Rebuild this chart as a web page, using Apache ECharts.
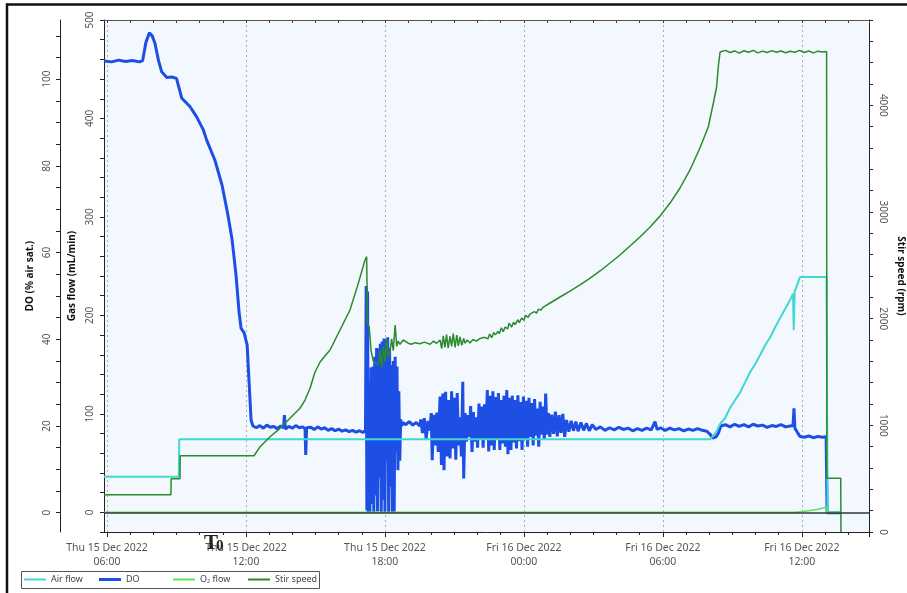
<!DOCTYPE html>
<html>
<head>
<meta charset="utf-8">
<script src="https://cdn.jsdelivr.net/npm/echarts@6/dist/echarts.min.js"></script>
<style>
  html, body { margin: 0; padding: 0; background: #fff; }
  #chart { width: 907px; height: 593px; }
</style>
</head>
<body>
<div id="chart"></div>
<script>
// Time values are hours after Thu 15 Dec 2022 00:00.
const T_START = 5.87;
const T_END = 38.9;
const dayNames = ['Thu 15 Dec 2022', 'Fri 16 Dec 2022'];
const legendNames = ['Air flow', 'DO', 'O\u2082 flow', 'Stir speed'];

// Dissolved oxygen, % air saturation
const doData = [
  [5.87,104.2],[6.2,104.0],[6.5,104.4],[6.8,104.1],[7.1,104.3],[7.4,104.0],[7.54,104.3],
  [7.68,108.5],[7.83,110.7],[7.95,110.0],[8.07,108.3],[8.22,104.4],[8.36,101.7],[8.58,100.4],
  [8.8,100.5],[9.0,100.2],[9.08,100.2],[9.23,95.6],[9.58,93.7],[9.87,91.3],[10.16,88.3],
  [10.30,86.0],[10.66,81.3],[10.97,75.5],[11.22,68.7],[11.40,63.0],[11.57,54.8],[11.70,46.4],
  [11.79,42.5],[11.92,41.5],[12.05,38.7],[12.13,30.6],[12.22,21.4],[12.30,20.0],
  [12.45,19.6],[12.6,20.1],[12.75,19.5],[12.9,20.2],[13.05,19.7],[13.2,19.9],[13.35,19.4],
  [13.5,20.0],[13.62,19.6],[13.66,22.5],[13.70,19.3],[13.85,19.9],[14.0,19.5],[14.15,20.1],
  [14.3,19.6],[14.45,19.8],[14.55,19.4],[14.58,13.3],[14.62,19.6],[14.8,19.7],[14.95,19.2],
  [15.1,19.8],[15.25,19.3],[15.4,19.6],[15.55,19.0],[15.7,19.4],[15.85,18.9],[16.0,19.3],
  [16.15,18.8],[16.3,19.1],[16.45,18.7],[16.6,19.0],[16.75,18.6],[16.9,18.9],[17.05,18.5],
  [17.12,18.8],[17.16,19.0],[17.19,52.3],[17.22,0.5],[17.25,51.0],[17.28,0],[17.32,30.0],
  [17.35,0],[17.40,33.5],[17.44,2.0],[17.48,33.7],[17.52,0],[17.56,36.0],[17.60,4.0],
  [17.64,38.0],[17.68,0.3],[17.72,37.9],[17.76,8.0],[17.80,39.0],[17.84,0],[17.88,39.5],
  [17.92,3.0],[17.96,40.2],[18.00,0],[18.04,40.0],[18.08,12.0],[18.12,40.5],[18.16,0],
  [18.20,38.0],[18.24,6.0],[18.28,34.0],[18.32,0],[18.36,35.0],[18.40,0.2],[18.44,36.0],
  [18.48,14.0],[18.52,33.7],[18.56,9.8],[18.60,28.0],[18.64,12.0],[18.68,21.5],[18.72,20.0],
  [18.78,20.8],[18.9,20.3],[19.05,21.0],[19.2,20.2],[19.35,20.8],[19.5,20.0],
  [19.55,21.5],[19.62,18.4],[19.70,21.8],[19.78,17.0],[19.86,21.2],[19.94,19.0],[20.00,23.0],
  [20.04,12.1],[20.10,22.6],[20.17,15.5],[20.24,23.1],[20.30,14.0],[20.38,26.8],[20.44,11.0],
  [20.50,27.5],[20.55,9.8],[20.62,27.9],[20.68,13.0],[20.75,26.0],[20.81,12.5],[20.88,28.0],
  [20.94,14.8],[21.00,26.5],[21.06,12.2],[21.12,27.6],[21.18,15.5],[21.24,22.0],[21.30,13.0],
  [21.36,30.2],[21.40,7.9],[21.46,23.0],[21.52,16.4],[21.58,22.5],[21.64,17.5],[21.70,24.6],
  [21.76,14.0],[21.82,23.2],[21.88,16.4],[21.94,22.0],[22.00,15.0],[22.06,25.2],[22.12,16.8],
  [22.18,24.5],[22.24,15.0],[22.30,25.0],[22.36,17.0],[22.42,28.3],[22.48,14.1],[22.54,27.0],
  [22.60,15.5],[22.66,28.0],[22.72,14.5],[22.78,26.7],[22.84,17.0],[22.90,27.6],[22.96,14.5],
  [23.02,26.0],[23.08,16.0],[23.14,27.0],[23.20,15.2],[23.26,28.3],[23.31,13.5],[23.38,26.5],
  [23.44,14.5],[23.50,27.0],[23.56,16.2],[23.62,26.0],[23.68,14.8],[23.74,27.1],[23.80,16.5],
  [23.86,25.5],[23.92,14.5],[23.98,26.8],[24.04,17.0],[24.10,25.8],[24.16,15.2],[24.22,26.5],
  [24.28,17.5],[24.34,25.3],[24.40,15.5],[24.46,26.2],[24.52,17.8],[24.58,24.0],[24.64,15.2],
  [24.70,25.6],[24.76,18.0],[24.82,24.5],[24.88,16.8],[24.94,27.5],[25.00,18.0],[25.06,23.0],
  [25.12,17.5],[25.20,22.6],[25.28,18.2],[25.36,23.3],[25.44,17.6],[25.52,22.5],[25.60,18.4],
  [25.68,22.8],[25.76,17.5],[25.84,21.4],[25.94,18.7],[26.04,21.2],[26.14,18.9],[26.24,21.0],
  [26.34,18.8],[26.46,20.8],[26.58,19.0],[26.70,20.6],[26.82,18.9],[26.95,20.3],
  [27.1,19.2],[27.3,19.8],[27.5,19.0],[27.7,19.6],[27.9,19.1],[28.1,19.7],[28.3,19.2],
  [28.5,19.5],[28.7,18.9],[28.9,19.4],[29.1,19.0],[29.3,19.5],[29.5,19.1],[29.66,21.0],
  [29.75,19.2],[29.9,19.6],[30.1,19.0],[30.3,19.5],[30.5,19.1],[30.7,19.4],[30.9,18.9],
  [31.1,19.3],[31.3,19.0],[31.5,19.4],[31.7,19.0],[31.9,18.8],[32.05,18.0],[32.15,17.2],
  [32.3,17.5],[32.4,18.4],[32.5,20.0],[32.7,20.3],[32.9,19.8],[33.1,20.4],[33.3,19.9],
  [33.5,20.3],[33.7,19.8],[33.9,20.4],[34.1,20.0],[34.3,20.2],[34.5,19.7],[34.7,20.1],
  [34.9,19.9],[35.1,20.3],[35.3,19.8],[35.5,20.0],[35.62,20.1],[35.66,24.1],[35.7,19.5],
  [35.8,18.6],[35.92,17.6],[36.1,17.4],[36.3,17.7],[36.5,17.3],[36.7,17.6],[36.9,17.4],
  [37.05,17.5],[37.09,0],[37.68,0]
];

// Air flow, mL/min
const airData = [
  [5.87,36.1],[9.10,36.1],[9.12,74.2],[32.05,74.2],[32.12,75.5],[32.30,81.6],[32.47,89.7],
  [32.69,95.8],[32.90,106.0],[33.12,114.0],[33.34,122.0],[33.55,132.0],[33.77,142.5],
  [33.99,150.7],[34.20,159.8],[34.42,170.0],[34.64,178.0],[34.85,188.0],[35.07,197.7],
  [35.29,206.9],[35.50,216.0],[35.62,222.0],[35.65,185.0],[35.69,224.5],[35.80,231.0],
  [35.92,239.0],[37.07,239.0],[37.11,0],[37.68,0]
];

// O2 flow, mL/min
const o2Data = [
  [5.87,0],[35.70,0],[35.92,0.6],[36.3,1.6],[36.7,3.2],[37.07,5.3],[37.09,0],[37.68,0]
];

// Stirrer speed, rpm
const stirData = [
  [5.87,350],[8.76,350],[8.77,500],[9.15,500],[9.16,715],[12.35,715],[12.61,800],[13.04,893],
  [13.47,972],[13.90,1066],[14.33,1160],[14.55,1237],[14.77,1350],[14.98,1500],[15.20,1594],
  [15.41,1650],[15.63,1706],[16.06,1894],[16.49,2081],[16.85,2331],[17.14,2550],[17.21,2581],
  [17.25,1950],[17.32,1925],[17.40,1700],[17.50,1600],[17.71,1566],[17.79,1706],[17.86,1538],
  [17.93,1737],[18.00,1600],[18.07,1816],[18.14,1640],[18.22,1690],[18.29,1810],[18.36,1700],
  [18.44,1941],[18.51,1740],[18.57,1790],[18.65,1760],[18.79,1800],[19.00,1770],[19.15,1760],
  [19.30,1775],[19.51,1765],[19.7,1780],[19.95,1760],[20.1,1790],[20.23,1769],[20.38,1800],
  [20.45,1720],[20.52,1840],[20.59,1730],[20.66,1850],[20.73,1725],[20.81,1835],[20.88,1740],
  [20.95,1860],[21.03,1730],[21.10,1845],[21.17,1745],[21.24,1830],[21.32,1750],[21.40,1815],
  [21.46,1770],[21.55,1800],[21.67,1772],[21.8,1805],[21.95,1790],[22.11,1815],[22.3,1825],
  [22.45,1812],[22.52,1856],[22.61,1822],[22.70,1870],[22.77,1848],[22.88,1881],[22.94,1860],
  [23.03,1915],[23.11,1877],[23.19,1922],[23.30,1904],[23.36,1958],[23.47,1921],[23.55,1966],
  [23.62,1944],[23.74,1990],[23.80,1962],[23.90,2005],[24.00,1985],[24.07,2030],[24.18,2012],
  [24.26,2043],[24.33,2026],[24.45,2066],[24.55,2052],[24.62,2088],[24.74,2080],[24.82,2106],
  [24.9,2120],[25.13,2147],[25.35,2175],[25.56,2203],[25.99,2259],
  [26.42,2316],[26.86,2381],[27.29,2447],[27.72,2522],[28.15,2597],[28.58,2681],[29.01,2766],
  [29.45,2859],[29.88,2962],[30.31,3084],[30.74,3225],[31.17,3394],[31.60,3600],[31.96,3797],
  [32.18,4022],[32.32,4172],[32.40,4378],[32.47,4500],[32.7,4515],[32.9,4495],[33.1,4510],
  [33.3,4490],[33.5,4512],[33.7,4498],[33.9,4515],[34.1,4492],[34.3,4508],[34.5,4495],
  [34.7,4513],[34.9,4497],[35.1,4510],[35.3,4493],[35.5,4507],[35.7,4498],[35.9,4515],
  [36.1,4495],[36.3,4510],[36.5,4492],[36.7,4508],[36.9,4500],[37.07,4505],[37.08,503],
  [37.68,503],[37.69,0]
];

const COLORS = {
  air: '#3fd8d2',
  do: '#1d4fe4',
  o2: '#62df5c',
  stir: '#2b8a2b'
};

const FONT = 'Noto Sans';
const labelGray = '#555';
const axisBlack = '#222';

function timeLabel(v) {
  const h = Math.round(v);
  if (Math.abs(v - h) > 1e-6 || h % 6 !== 0) return '';
  const day = Math.floor(h / 24);
  const hh = h - day * 24;
  return dayNames[day] + '\n' + String(hh).padStart(2, '0') + ':00';
}

function everyN(n) {
  return function (v) {
    const r = Math.round(v);
    if (Math.abs(v - r) > 1e-6 || r % n !== 0) return '';
    return String(r);
  };
}

// One legend block per series, laid out in equal-width slots inside a shared frame.
const legendSlots = [24, 99, 173, 248];
const legendIconHeights = [2, 3, 2, 2];
const legends = legendNames.map(function (name, i) {
  return {
    data: [name], left: legendSlots[i], top: 575, orient: 'horizontal',
    icon: 'rect', itemWidth: 22, itemHeight: legendIconHeights[i], padding: 0,
    textStyle: { fontFamily: FONT, fontSize: 9, color: '#444' }
  };
});

const chart = echarts.init(document.getElementById('chart'), null, { renderer: 'canvas' });

const gridBase = { right: 38, top: 20, height: 512, containLabel: false, outerBoundsMode: 'none' };

chart.setOption({
  animation: false,
  backgroundColor: '#ffffff',
  grid: [
    // data area
    Object.assign({}, gridBase, { left: 104, show: true, backgroundColor: '#f3f8fe', borderWidth: 0 }),
    // time ticks, starting at 06:00
    Object.assign({}, gridBase, { left: 107 }),
    // DO ticks, bottom edge at DO = 0
    { left: 104, right: 38, top: 20, height: 492.7, containLabel: false, outerBoundsMode: 'none' }
  ],
  xAxis: [
    {
      type: 'value', gridIndex: 0, position: 'bottom', min: T_START, max: T_END,
      axisLine: { show: true, onZero: false, lineStyle: { color: axisBlack, width: 1 } },
      axisTick: { show: false }, axisLabel: { show: false }, splitLine: { show: false }
    },
    {
      type: 'value', gridIndex: 0, position: 'top', min: T_START, max: T_END,
      axisLine: { show: true, onZero: false, lineStyle: { color: '#555', width: 1 } },
      axisTick: { show: false }, axisLabel: { show: false }, splitLine: { show: false }
    },
    {
      type: 'value', gridIndex: 1, position: 'bottom', min: 6, max: T_END, interval: 6,
      axisLine: { show: false, onZero: false },
      axisTick: { show: true, length: 5, lineStyle: { color: axisBlack } },
      minorTick: { show: true, splitNumber: 6, length: 3, lineStyle: { color: axisBlack } },
      axisLabel: {
        show: true, formatter: timeLabel, margin: 9, color: labelGray,
        fontFamily: FONT, fontSize: 10.5, lineHeight: 14, showMaxLabel: false
      },
      splitLine: { show: true, lineStyle: { color: '#a9adb3', type: [2, 3], width: 1 } }
    },
    {
      type: 'value', gridIndex: 1, position: 'top', min: 6, max: T_END, interval: 6,
      axisLine: { show: false, onZero: false },
      axisTick: { show: true, inside: true, length: 3, lineStyle: { color: '#444' } },
      minorTick: { show: true, splitNumber: 6, length: 3, lineStyle: { color: '#444' } },
      axisLabel: { show: false }, splitLine: { show: false }
    },
    { type: 'value', gridIndex: 2, show: false, min: 0, max: 1 }
  ],
  yAxis: [
    {
      // gas flow
      type: 'value', gridIndex: 0, position: 'left', offset: 0, min: -20, max: 500, interval: 20,
      name: 'Gas flow (mL/min)', nameLocation: 'middle', nameGap: 25,
      nameTextStyle: { fontFamily: FONT, fontSize: 10, fontWeight: 'bold', color: '#111' },
      axisLine: { show: true, onZero: false, lineStyle: { color: axisBlack } },
      axisTick: { show: true, length: 4, lineStyle: { color: axisBlack } },
      axisLabel: {
        formatter: everyN(100), rotate: 90, margin: 9, color: labelGray,
        fontFamily: FONT, fontSize: 10
      },
      splitLine: { show: false }
    },
    {
      // DO scale for the data
      type: 'value', gridIndex: 0, position: 'left', offset: 44, min: -4.45, max: 113.66,
      name: 'DO (% air sat.)', nameLocation: 'middle', nameGap: 25,
      nameTextStyle: { fontFamily: FONT, fontSize: 10, fontWeight: 'bold', color: '#111' },
      axisLine: { show: true, onZero: false, lineStyle: { color: axisBlack } },
      axisTick: { show: false }, axisLabel: { show: false }, splitLine: { show: false }
    },
    {
      // stir speed
      type: 'value', gridIndex: 0, position: 'right', offset: 0, min: 0, max: 4800, interval: 200,
      name: 'Stir speed (rpm)', nameLocation: 'middle', nameGap: 24, nameRotate: -90,
      nameTextStyle: { fontFamily: FONT, fontSize: 10, fontWeight: 'bold', color: '#111' },
      axisLine: { show: true, onZero: false, lineStyle: { color: axisBlack } },
      axisTick: { show: true, length: 4, lineStyle: { color: axisBlack } },
      axisLabel: {
        formatter: everyN(1000), rotate: -90, margin: 9, color: labelGray,
        fontFamily: FONT, fontSize: 10
      },
      splitLine: { show: false }
    },
    { type: 'value', gridIndex: 1, show: false, min: 0, max: 1 },
    {
      // DO ticks and labels
      type: 'value', gridIndex: 2, position: 'left', offset: 44, min: 0, max: 113.66, interval: 5,
      axisLine: { show: false, onZero: false },
      axisTick: { show: true, length: 4, lineStyle: { color: axisBlack } },
      axisLabel: {
        formatter: everyN(20), rotate: 90, margin: 8, color: labelGray,
        fontFamily: FONT, fontSize: 10, showMaxLabel: false
      },
      splitLine: { show: false }
    }
  ],
  legend: legends,
  series: [
    {
      name: 'DO', type: 'line', xAxisIndex: 0, yAxisIndex: 1, data: doData,
      showSymbol: false, symbol: 'none', z: 2,
      lineStyle: { color: COLORS.do, width: 3, join: 'bevel' }, itemStyle: { color: COLORS.do }
    },
    {
      name: 'Air flow', type: 'line', xAxisIndex: 0, yAxisIndex: 0, data: airData,
      showSymbol: false, symbol: 'none', z: 3,
      lineStyle: { color: COLORS.air, width: 2 }, itemStyle: { color: COLORS.air }
    },
    {
      name: 'O\u2082 flow', type: 'line', xAxisIndex: 0, yAxisIndex: 0, data: o2Data,
      showSymbol: false, symbol: 'none', z: 3,
      lineStyle: { color: COLORS.o2, width: 1.5 }, itemStyle: { color: COLORS.o2 },
      markLine: {
        silent: true, symbol: 'none', label: { show: false },
        lineStyle: { color: '#2d3b32', width: 1.5, type: 'solid' },
        data: [{ yAxis: 0 }]
      }
    },
    {
      name: 'Stir speed', type: 'line', xAxisIndex: 0, yAxisIndex: 2, data: stirData,
      showSymbol: false, symbol: 'none', z: 4,
      lineStyle: { color: COLORS.stir, width: 1.5 }, itemStyle: { color: COLORS.stir }
    }
  ],
  graphic: [
    { type: 'line', z: 50, shape: { x1: 6, y1: 4.5, x2: 907, y2: 4.5 }, style: { stroke: '#111', lineWidth: 2.5 } },
    { type: 'line', z: 50, shape: { x1: 7, y1: 3.5, x2: 7, y2: 593 }, style: { stroke: '#111', lineWidth: 2.5 } },
    // legend frame
    { type: 'rect', z: 0, shape: { x: 21.5, y: 571.5, width: 298, height: 17 }, style: { fill: '#fff', stroke: '#555', lineWidth: 1 } },
    { type: 'text', z: 100, left: 204, top: 533, style: { text: 'T', font: 'bold 21px "Liberation Serif"', fill: '#222' } },
    { type: 'text', z: 100, left: 216, top: 539, style: { text: '0', font: 'bold 15px "Liberation Serif"', fill: '#222' } }
  ]
});
</script>
</body>
</html>
